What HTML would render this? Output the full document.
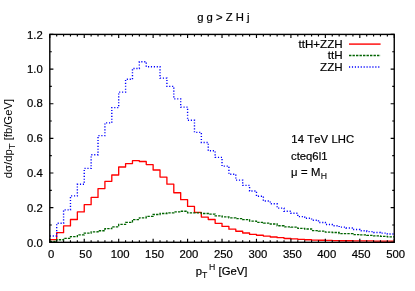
<!DOCTYPE html>
<html><head><meta charset="utf-8"><title>g g &gt; Z H j</title>
<style>
html,body{margin:0;padding:0;background:#fff;}
svg{display:block;will-change:transform;opacity:0.9999;}
text{font-family:"Liberation Sans",sans-serif;font-size:11.3px;fill:#000;stroke:#000;stroke-width:0.2px;font-kerning:none;}
.s{font-size:8.7px;stroke-width:0.1px;}
</style></head><body>
<svg width="415" height="291" viewBox="0 0 415 291">
<rect width="415" height="291" fill="#fff"/>
<path d="M49.80 239.56 H56.69 V232.65 H63.58 V225.91 H70.47 V219.53 H77.36 V211.93 H84.24 V204.68 H91.13 V197.42 H98.02 V188.62 H104.91 V181.37 H111.80 V174.98 H118.69 V167.03 H125.58 V163.58 H132.47 V160.65 H139.36 V161.51 H146.25 V164.62 H153.13 V169.97 H160.02 V177.05 H166.91 V184.13 H173.80 V192.76 H180.69 V199.67 H187.58 V206.40 H194.47 V212.45 H201.36 V217.11 H208.25 V219.53 H215.14 V223.32 H222.02 V226.43 H228.91 V229.20 H235.80 V231.27 H242.69 V232.99 H249.58 V234.38 H256.47 V235.24 H263.36 V236.10 H270.25 V236.97 H277.14 V237.66 H284.03 V238.52 H290.91 V238.86 H297.80 V239.38 H304.69 V239.73 H311.58 V240.07 H318.47 V240.25 H325.36 V240.42 H332.25 V240.59 H339.14 V240.76 H346.03 V240.76 H352.92 V240.94 H359.81 V240.94 H366.69 V240.94 H373.58 V241.11 H380.47 V241.11 H387.36 V241.11 H394.25" fill="none" stroke="#ff0000" stroke-width="1.32" stroke-linejoin="round"/>
<path d="M49.80 241.28 H56.69 V239.73 H63.58 V238.35 H70.47 V236.62 H77.36 V234.89 H84.24 V233.17 H91.13 V231.79 H98.02 V230.75 H104.91 V228.68 H111.80 V226.78 H118.69 V224.36 H125.58 V222.46 H132.47 V219.53 H139.36 V217.80 H146.25 V216.42 H153.13 V214.52 H160.02 V213.48 H166.91 V212.79 H173.80 V211.93 H180.69 V211.24 H187.58 V212.79 H194.47 V212.79 H201.36 V213.48 H208.25 V214.17 H215.14 V215.90 H222.02 V216.94 H228.91 V217.80 H235.80 V218.66 H242.69 V219.70 H249.58 V221.08 H256.47 V222.29 H263.36 V223.15 H270.25 V224.01 H277.14 V225.74 H284.03 V226.78 H290.91 V227.12 H297.80 V228.33 H304.69 V229.02 H311.58 V230.58 H318.47 V231.09 H325.36 V232.13 H332.25 V232.48 H339.14 V233.68 H346.03 V233.68 H352.92 V234.55 H359.81 V234.89 H366.69 V235.41 H373.58 V235.93 H380.47 V236.45 H387.36 V236.97 H394.25" fill="none" stroke="#006400" stroke-width="1.3" stroke-dasharray="2.4 1.1"/>
<path d="M49.80 235.93 H56.69 V223.32 H63.58 V209.86 H70.47 V195.87 H77.36 V184.30 H84.24 V168.42 H91.13 V154.77 H98.02 V135.61 H104.91 V122.83 H111.80 V107.64 H118.69 V92.10 H125.58 V79.32 H132.47 V68.44 H139.36 V61.71 H146.25 V66.71 H153.13 V66.71 H160.02 V78.11 H166.91 V86.40 H173.80 V98.83 H180.69 V107.12 H187.58 V120.24 H194.47 V132.33 H201.36 V142.51 H208.25 V150.80 H215.14 V157.36 H222.02 V166.17 H228.91 V174.29 H235.80 V180.16 H242.69 V185.34 H249.58 V191.04 H256.47 V196.22 H263.36 V201.05 H270.25 V203.81 H277.14 V208.13 H284.03 V211.24 H290.91 V213.31 H297.80 V216.59 H304.69 V218.32 H311.58 V220.22 H318.47 V222.46 H325.36 V224.53 H332.25 V225.74 H339.14 V227.12 H346.03 V227.99 H352.92 V229.54 H359.81 V230.75 H366.69 V231.61 H373.58 V232.48 H380.47 V233.17 H387.36 V234.03 H394.25" fill="none" stroke="#0000ff" stroke-width="1.4" stroke-dasharray="1.15 1.77"/>
<path d="M49.80 242.30 v-3.60 M49.80 34.40 v3.60 M56.69 242.30 v-2.00 M56.69 34.40 v2.00 M63.58 242.30 v-2.00 M63.58 34.40 v2.00 M70.47 242.30 v-2.00 M70.47 34.40 v2.00 M77.36 242.30 v-2.00 M77.36 34.40 v2.00 M84.24 242.30 v-3.60 M84.24 34.40 v3.60 M91.13 242.30 v-2.00 M91.13 34.40 v2.00 M98.02 242.30 v-2.00 M98.02 34.40 v2.00 M104.91 242.30 v-2.00 M104.91 34.40 v2.00 M111.80 242.30 v-2.00 M111.80 34.40 v2.00 M118.69 242.30 v-3.60 M118.69 34.40 v3.60 M125.58 242.30 v-2.00 M125.58 34.40 v2.00 M132.47 242.30 v-2.00 M132.47 34.40 v2.00 M139.36 242.30 v-2.00 M139.36 34.40 v2.00 M146.25 242.30 v-2.00 M146.25 34.40 v2.00 M153.13 242.30 v-3.60 M153.13 34.40 v3.60 M160.02 242.30 v-2.00 M160.02 34.40 v2.00 M166.91 242.30 v-2.00 M166.91 34.40 v2.00 M173.80 242.30 v-2.00 M173.80 34.40 v2.00 M180.69 242.30 v-2.00 M180.69 34.40 v2.00 M187.58 242.30 v-3.60 M187.58 34.40 v3.60 M194.47 242.30 v-2.00 M194.47 34.40 v2.00 M201.36 242.30 v-2.00 M201.36 34.40 v2.00 M208.25 242.30 v-2.00 M208.25 34.40 v2.00 M215.14 242.30 v-2.00 M215.14 34.40 v2.00 M222.02 242.30 v-3.60 M222.02 34.40 v3.60 M228.91 242.30 v-2.00 M228.91 34.40 v2.00 M235.80 242.30 v-2.00 M235.80 34.40 v2.00 M242.69 242.30 v-2.00 M242.69 34.40 v2.00 M249.58 242.30 v-2.00 M249.58 34.40 v2.00 M256.47 242.30 v-3.60 M256.47 34.40 v3.60 M263.36 242.30 v-2.00 M263.36 34.40 v2.00 M270.25 242.30 v-2.00 M270.25 34.40 v2.00 M277.14 242.30 v-2.00 M277.14 34.40 v2.00 M284.03 242.30 v-2.00 M284.03 34.40 v2.00 M290.91 242.30 v-3.60 M290.91 34.40 v3.60 M297.80 242.30 v-2.00 M297.80 34.40 v2.00 M304.69 242.30 v-2.00 M304.69 34.40 v2.00 M311.58 242.30 v-2.00 M311.58 34.40 v2.00 M318.47 242.30 v-2.00 M318.47 34.40 v2.00 M325.36 242.30 v-3.60 M325.36 34.40 v3.60 M332.25 242.30 v-2.00 M332.25 34.40 v2.00 M339.14 242.30 v-2.00 M339.14 34.40 v2.00 M346.03 242.30 v-2.00 M346.03 34.40 v2.00 M352.92 242.30 v-2.00 M352.92 34.40 v2.00 M359.81 242.30 v-3.60 M359.81 34.40 v3.60 M366.69 242.30 v-2.00 M366.69 34.40 v2.00 M373.58 242.30 v-2.00 M373.58 34.40 v2.00 M380.47 242.30 v-2.00 M380.47 34.40 v2.00 M387.36 242.30 v-2.00 M387.36 34.40 v2.00 M394.25 242.30 v-3.60 M394.25 34.40 v3.60 M49.80 242.30 h3.60 M394.25 242.30 h-3.60 M49.80 224.98 h2.00 M394.25 224.98 h-2.00 M49.80 207.65 h3.60 M394.25 207.65 h-3.60 M49.80 190.32 h2.00 M394.25 190.32 h-2.00 M49.80 173.00 h3.60 M394.25 173.00 h-3.60 M49.80 155.68 h2.00 M394.25 155.68 h-2.00 M49.80 138.35 h3.60 M394.25 138.35 h-3.60 M49.80 121.02 h2.00 M394.25 121.02 h-2.00 M49.80 103.70 h3.60 M394.25 103.70 h-3.60 M49.80 86.38 h2.00 M394.25 86.38 h-2.00 M49.80 69.05 h3.60 M394.25 69.05 h-3.60 M49.80 51.72 h2.00 M394.25 51.72 h-2.00 M49.80 34.40 h3.60 M394.25 34.40 h-3.60" stroke="#000" stroke-width="1.15" fill="none"/>
<rect x="49.8" y="34.4" width="344.45" height="207.90" fill="none" stroke="#000" stroke-width="1.4"/>
<path d="M349 44.1 H380.6" stroke="#ff0000" stroke-width="1.4" fill="none"/>
<path d="M349 55.5 H380.6" stroke="#006400" stroke-width="1.3" stroke-dasharray="2.4 1.1" fill="none"/>
<path d="M349.0 67.0 H380.6" stroke="#0000ff" stroke-width="1.4" stroke-dasharray="1.15 1.77" fill="none"/>
<text x="42.8" y="246.80" text-anchor="end">0.0</text>
<text x="42.8" y="211.65" text-anchor="end">0.2</text>
<text x="42.8" y="177.00" text-anchor="end">0.4</text>
<text x="42.8" y="142.35" text-anchor="end">0.6</text>
<text x="42.8" y="107.35" text-anchor="end">0.8</text>
<text x="42.8" y="73.20" text-anchor="end">1.0</text>
<text x="42.8" y="38.80" text-anchor="end">1.2</text>
<text x="51.20" y="258.1" text-anchor="middle">0</text>
<text x="85.64" y="258.1" text-anchor="middle">50</text>
<text x="120.09" y="258.1" text-anchor="middle">100</text>
<text x="154.53" y="258.1" text-anchor="middle">150</text>
<text x="188.98" y="258.1" text-anchor="middle">200</text>
<text x="223.42" y="258.1" text-anchor="middle">250</text>
<text x="257.87" y="258.1" text-anchor="middle">300</text>
<text x="292.31" y="258.1" text-anchor="middle">350</text>
<text x="326.76" y="258.1" text-anchor="middle">400</text>
<text x="361.20" y="258.1" text-anchor="middle">450</text>
<text x="395.65" y="258.1" text-anchor="middle">500</text>
<text x="223.4" y="20.7" text-anchor="middle">g g &gt; Z H j</text>
<text x="195.7" y="274.6">p</text>
<text class="s" x="202.1" y="277.8">T</text>
<text class="s" x="208.9" y="269.5">H</text>
<text x="218.6" y="274.6">[GeV]</text>
<text transform="translate(12.4 178.2) rotate(-90)" style="stroke:none">dσ/dp<tspan style="font-size:9.6px" dy="2.7">T</tspan><tspan dy="-2.7" dx="-0.1"> [fb/GeV]</tspan></text>
<text x="342.6" y="48.1" text-anchor="end" style="font-size:11.6px">ttH+ZZH</text>
<text x="342.6" y="59.3" text-anchor="end" style="font-size:11.6px">ttH</text>
<text x="342.6" y="70.5" text-anchor="end" style="font-size:11.6px">ZZH</text>
<text x="291.3" y="142.5" letter-spacing="0.08">14 TeV LHC</text>
<text x="291.0" y="160.1">cteq6l1</text>
<text x="291.0" y="175.8">μ</text>
<text x="300.9" y="175.8">=</text>
<text x="310.9" y="175.8">M</text>
<text class="s" x="320.7" y="179.4">H</text>
</svg>
</body></html>
